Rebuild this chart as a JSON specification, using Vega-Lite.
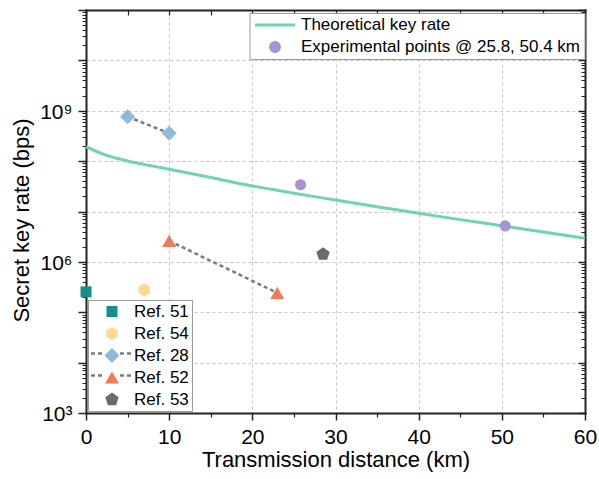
{
  "$schema": "https://vega.github.io/schema/vega-lite/v6.json",
  "width": 499,
  "height": 403,
  "autosize": {"type": "none"},
  "padding": {"left": 86, "top": 10, "right": 14, "bottom": 66},
  "background": "white",
  "config": {
    "font": "Liberation Sans",
    "axis": {"labelFont": "Liberation Sans", "titleFont": "Liberation Sans", "labelColor": "black", "titleColor": "black", "titleFontWeight": "normal"},
    "legend": {"labelFont": "Liberation Sans", "labelColor": "black"},
    "view": {"stroke": null}
  },
  "datasets": {
    "theory": [
      {"d": 0, "r": 1.934e8}, {"d": 1, "r": 1.625e8}, {"d": 2, "r": 1.398e8}, {"d": 3, "r": 1.23e8},
      {"d": 4, "r": 1.107e8}, {"d": 5, "r": 1.006e8}, {"d": 7.5, "r": 8.3e7}, {"d": 10, "r": 6.92e7},
      {"d": 15, "r": 4.73e7}, {"d": 20, "r": 3.21e7}, {"d": 25, "r": 2.31e7}, {"d": 30, "r": 1.69e7},
      {"d": 35, "r": 1.245e7}, {"d": 40, "r": 9.25e6}, {"d": 45, "r": 6.9e6}, {"d": 50, "r": 5.2e6},
      {"d": 55, "r": 3.92e6}, {"d": 60, "r": 2.95e6}
    ],
    "refs": [
      {"ref": "Ref. 51", "d": 0, "r": 2.54e5},
      {"ref": "Ref. 54", "d": 7, "r": 2.78e5},
      {"ref": "Ref. 28", "d": 5, "r": 7.64e8},
      {"ref": "Ref. 28", "d": 10, "r": 3.57e8},
      {"ref": "Ref. 52", "d": 10, "r": 2.61e6},
      {"ref": "Ref. 52", "d": 23, "r": 2.43e5},
      {"ref": "Ref. 53", "d": 28.5, "r": 1.42e6}
    ],
    "exp": [
      {"series": "Experimental points @ 25.8, 50.4 km", "d": 25.8, "r": 3.4e7},
      {"series": "Experimental points @ 25.8, 50.4 km", "d": 50.4, "r": 5.17e6}
    ]
  },
  "resolve": {"axis": {"x": "independent", "y": "independent"}},
  "layer": [
    {
      "data": {"name": "theory"},
      "mark": {"type": "line", "color": "#70d2b7", "strokeWidth": 3, "interpolate": "monotone"},
      "encoding": {
        "x": {"field": "d", "type": "quantitative", "scale": {"domain": [0, 60], "nice": false},
          "axis": {"orient": "bottom", "values": [0, 10, 20, 30, 40, 50, 60], "tickSize": 7, "tickWidth": 1.5, "tickColor": "#222",
            "labelFontSize": 21, "labelPadding": 6, "labelFlush": false, "labelOverlap": false,
            "title": "Transmission distance (km)", "titleFontSize": 22, "titleBaseline": "alphabetic", "titleY": 53,
            "grid": true, "gridDash": [3, 3], "gridColor": "#c4c4c4", "gridWidth": 1,
            "domain": true, "domainColor": "#222", "domainWidth": 2, "domainCap": "square"}},
        "y": {"field": "r", "type": "quantitative", "scale": {"type": "log", "domain": [1000, 1e11], "nice": false},
          "axis": {"orient": "left", "values": [1e3, 1e4, 1e5, 1e6, 1e7, 1e8, 1e9, 1e10, 1e11], "tickSize": 8, "tickWidth": 1.5, "tickColor": "#222",
            "labelFontSize": 21, "labelPadding": 6, "labelOffset": 1.5,
            "labelExpr": "datum.value == 1000 ? '10³' : datum.value == 1000000 ? '10⁶' : datum.value == 1000000000 ? '10⁹' : ''",
            "labelFlush": false, "labelOverlap": false,
            "title": "Secret key rate (bps)", "titleFontSize": 22, "titleBaseline": "alphabetic", "titleX": -58, "titleY": 210,
            "grid": true, "gridDash": [3, 3], "gridColor": "#c4c4c4", "gridWidth": 1,
            "domain": true, "domainColor": "#222", "domainWidth": 2, "domainCap": "square"}}
      }
    },
    {
      "data": {"name": "refs"},
      "transform": [{"filter": {"field": "ref", "oneOf": ["Ref. 28", "Ref. 52"]}}],
      "mark": {"type": "line", "color": "#7b7b7b", "strokeWidth": 2.5},
      "encoding": {
        "x": {"field": "d", "type": "quantitative", "scale": {"domain": [0, 60], "nice": false},
          "axis": {"orient": "bottom", "values": [5, 15, 25, 35, 45, 55], "tickSize": 4, "tickWidth": 1.2, "tickColor": "#222",
            "labels": false, "domain": false, "grid": false, "title": null}},
        "y": {"field": "r", "type": "quantitative", "scale": {"type": "log", "domain": [1000, 1e11], "nice": false},
          "axis": {"orient": "left", "tickSize": 4, "tickWidth": 1, "tickColor": "#222", "labels": false, "domain": false, "grid": false, "title": null,
            "values": [2e3, 3e3, 4e3, 5e3, 6e3, 7e3, 8e3, 9e3, 2e4, 3e4, 4e4, 5e4, 6e4, 7e4, 8e4, 9e4, 2e5, 3e5, 4e5, 5e5, 6e5, 7e5, 8e5, 9e5, 2e6, 3e6, 4e6, 5e6, 6e6, 7e6, 8e6, 9e6, 2e7, 3e7, 4e7, 5e7, 6e7, 7e7, 8e7, 9e7, 2e8, 3e8, 4e8, 5e8, 6e8, 7e8, 8e8, 9e8, 2e9, 3e9, 4e9, 5e9, 6e9, 7e9, 8e9, 9e9, 2e10, 3e10, 4e10, 5e10, 6e10, 7e10, 8e10, 9e10]}},
        "order": {"field": "d", "type": "quantitative"},
        "strokeDash": {"field": "ref", "type": "nominal", "scale": {"domain": ["Ref. 28", "Ref. 52"], "range": [[4, 3], [4, 3]]},
          "legend": {"orient": "none", "legendX": 0.5, "legendY": 332, "title": null, "padding": 3, "clipHeight": 17, "rowPadding": 4,
            "symbolType": "M-1,0H-0.38M0.38,0H1", "symbolSize": 1764, "symbolStrokeColor": "#7b7b7b", "symbolStrokeWidth": 2.5,
            "labelExpr": "''", "labelFontSize": 17, "zindex": 1}}
      }
    },
    {
      "data": {"name": "refs"},
      "mark": {"type": "point", "filled": true, "size": 1764, "opacity": 1, "strokeWidth": 0},
      "encoding": {
        "x": {"field": "d", "type": "quantitative", "scale": {"domain": [0, 60], "nice": false},
          "axis": {"orient": "top", "values": [0, 5, 10, 15, 20, 25, 30, 35, 40, 45, 50, 55, 60], "tickSize": -5, "tickWidth": 1.2, "tickColor": "#222",
            "labels": false, "grid": false, "title": null, "domain": true, "domainColor": "#222", "domainWidth": 2, "domainCap": "square"}},
        "y": {"field": "r", "type": "quantitative", "scale": {"type": "log", "domain": [1000, 1e11], "nice": false},
          "axis": {"orient": "right", "values": [1e3, 1e4, 1e5, 1e6, 1e7, 1e8, 1e9, 1e10, 1e11], "tickSize": -7, "tickWidth": 1.5, "tickColor": "#222",
            "labels": false, "grid": false, "title": null, "domain": true, "domainColor": "#222", "domainWidth": 2, "domainCap": "square"}},
        "fill": {"field": "ref", "type": "nominal",
          "scale": {"domain": ["Ref. 51", "Ref. 54", "Ref. 28", "Ref. 52", "Ref. 53"], "range": ["#14908a", "#fed98e", "#8fb9dd", "#ef7b5b", "#6b6b6b"]},
          "legend": {"orient": "none", "legendX": 2, "legendY": 290, "title": null, "padding": 3, "clipHeight": 17, "rowPadding": 4,
            "symbolSize": 1764, "symbolStrokeWidth": 0, "symbolOpacity": 1, "labelFontSize": 17, "labelOffset": 1, "labelLimit": 300,
            "strokeColor": "#9a9a9a", "fillColor": "white"}},
        "shape": {"field": "ref", "type": "nominal",
          "scale": {"domain": ["Ref. 51", "Ref. 54", "Ref. 28", "Ref. 52", "Ref. 53"],
            "range": [
              "M-0.262,-0.262H0.262V0.262H-0.262Z",
              "M0,-0.31L0.268,-0.155L0.268,0.155L0,0.31L-0.268,0.155L-0.268,-0.155Z",
              "M0,-0.357L0.357,0L0,0.357L-0.357,0Z",
              "M0,-0.29L0.333,0.29L-0.333,0.29Z",
              "M0,-0.333L0.317,-0.103L0.196,0.27L-0.196,0.27L-0.317,-0.103Z"
            ]},
          "legend": {"orient": "none", "legendX": 2, "legendY": 290, "title": null, "padding": 3, "clipHeight": 17, "rowPadding": 4,
            "symbolSize": 1764, "symbolStrokeWidth": 0, "symbolOpacity": 1, "labelFontSize": 17, "labelOffset": 1, "labelLimit": 300,
            "strokeColor": "#9a9a9a", "fillColor": "white"}}
      }
    },
    {
      "data": {"name": "exp"},
      "mark": {"type": "point", "filled": true, "size": 125, "opacity": 1},
      "encoding": {
        "x": {"field": "d", "type": "quantitative", "scale": {"domain": [0, 60], "nice": false}, "axis": null},
        "y": {"field": "r", "type": "quantitative", "scale": {"type": "log", "domain": [1000, 1e11], "nice": false},
          "axis": {"orient": "right", "tickSize": -4, "tickWidth": 1, "tickColor": "#222", "labels": false, "domain": false, "grid": false, "title": null,
            "values": [2e3, 3e3, 4e3, 5e3, 6e3, 7e3, 8e3, 9e3, 2e4, 3e4, 4e4, 5e4, 6e4, 7e4, 8e4, 9e4, 2e5, 3e5, 4e5, 5e5, 6e5, 7e5, 8e5, 9e5, 2e6, 3e6, 4e6, 5e6, 6e6, 7e6, 8e6, 9e6, 2e7, 3e7, 4e7, 5e7, 6e7, 7e7, 8e7, 9e7, 2e8, 3e8, 4e8, 5e8, 6e8, 7e8, 8e8, 9e8, 2e9, 3e9, 4e9, 5e9, 6e9, 7e9, 8e9, 9e9, 2e10, 3e10, 4e10, 5e10, 6e10, 7e10, 8e10, 9e10]}},
        "color": {"field": "series", "type": "nominal",
          "scale": {"domain": ["Theoretical key rate", "Experimental points @ 25.8, 50.4 km"], "range": ["#70d2b7", "#a993d7"]},
          "legend": {"orient": "none", "legendX": 163.5, "legendY": 3, "title": null, "padding": 4, "clipHeight": 16, "rowPadding": 5,
            "symbolSize": 1600, "symbolStrokeWidth": 3, "symbolOpacity": 1, "labelFontSize": 17, "labelOffset": 4.5, "labelLimit": 400,
            "strokeColor": "#9a9a9a", "fillColor": "white",
            "encode": {"symbols": {"update": {
              "shape": {"signal": "datum.value == 'Theoretical key rate' ? 'stroke' : 'M-0.225,0A0.225,0.225,0,1,0,0.225,0A0.225,0.225,0,1,0,-0.225,0Z'"},
              "fill": {"scale": "color", "field": "value"},
              "stroke": {"scale": "color", "field": "value"}
            }}}}}
      }
    }
  ]
}
